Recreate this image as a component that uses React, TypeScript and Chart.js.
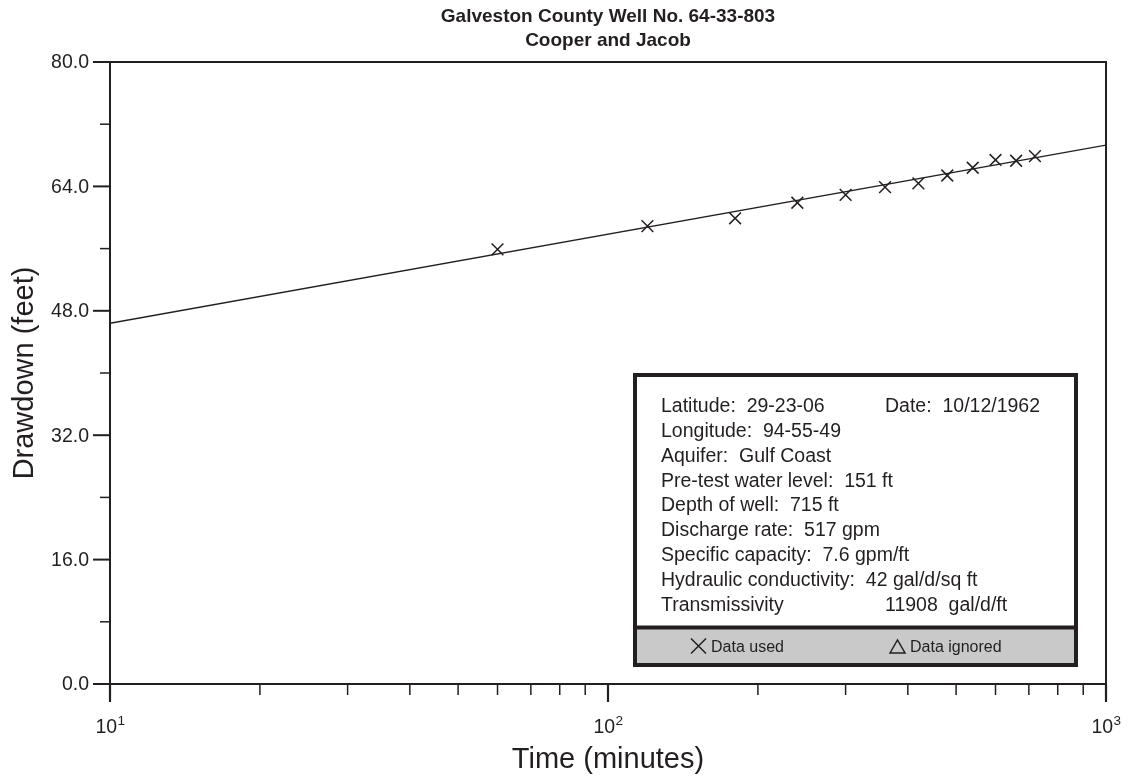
import React, { useEffect, useRef } from "react";
import { Chart, registerables } from "chart.js";

Chart.register(...registerables);

// ---- data ----
const timeMinutes = [60, 120, 180, 240, 300, 360, 420, 480, 540, 600, 660, 720];
const drawdownFeet = [55.9, 58.9, 59.9, 61.9, 62.9, 63.9, 64.4, 65.4, 66.4, 67.4, 67.3, 67.9];
const fitTime = [10, 1000];
const fitDrawdown = [46.4, 69.3];

const yMajorTicks = [0, 16, 32, 48, 64, 80];
const yMinorTicks = [8, 24, 40, 56, 72];
const xMajorTicks = [10, 100, 1000];
const xMajorExponents = ["1", "2", "3"];
const xMinorTicks = [20, 30, 40, 50, 60, 70, 80, 90, 200, 300, 400, 500, 600, 700, 800, 900];

const titleLines = ["Galveston County Well No. 64-33-803", "Cooper and Jacob"];
const xAxisTitle = "Time (minutes)";
const yAxisTitle = "Drawdown (feet)";

const infoLeft = [
  "Latitude:  29-23-06",
  "Longitude:  94-55-49",
  "Aquifer:  Gulf Coast",
  "Pre-test water level:  151 ft",
  "Depth of well:  715 ft",
  "Discharge rate:  517 gpm",
  "Specific capacity:  7.6 gpm/ft",
  "Hydraulic conductivity:  42 gal/d/sq ft",
  "Transmissivity",
];
const infoRight = ["Date:  10/12/1962", "", "", "", "", "", "", "", "11908  gal/d/ft"];
const legendUsed = "Data used";
const legendIgnored = "Data ignored";

const INK = "#231f20";
const FONT = '"Liberation Sans", Arial, Helvetica, sans-serif';

const decorPlugin = {
  id: "decor",
  afterDraw(chart: any) {
    const ctx = chart.ctx as CanvasRenderingContext2D;
    const xs = chart.scales.x;
    const ys = chart.scales.y;
    const { left, right, top, bottom } = chart.chartArea;
    ctx.save();
    ctx.strokeStyle = INK;
    ctx.fillStyle = INK;
    ctx.lineCap = "butt";

    // frame
    ctx.lineWidth = 2;
    ctx.strokeRect(left, top, right - left, bottom - top);

    // y ticks
    ctx.font = `19.5px ${FONT}`;
    ctx.textAlign = "right";
    ctx.textBaseline = "middle";
    yMajorTicks.forEach((v) => {
      const y = ys.getPixelForValue(v);
      ctx.beginPath();
      ctx.moveTo(left - 17, y);
      ctx.lineTo(left, y);
      ctx.stroke();
      ctx.fillText(v.toFixed(1), left - 21, y + 1);
    });
    ctx.lineWidth = 1.5;
    yMinorTicks.forEach((v) => {
      const y = ys.getPixelForValue(v);
      ctx.beginPath();
      ctx.moveTo(left - 10, y);
      ctx.lineTo(left, y);
      ctx.stroke();
    });

    // x ticks
    xMinorTicks.forEach((v) => {
      const x = xs.getPixelForValue(v);
      ctx.beginPath();
      ctx.moveTo(x, bottom);
      ctx.lineTo(x, bottom + 11);
      ctx.stroke();
    });
    ctx.lineWidth = 2.2;
    xMajorTicks.forEach((v, i) => {
      const x = xs.getPixelForValue(v);
      ctx.beginPath();
      ctx.moveTo(x, bottom);
      ctx.lineTo(x, bottom + 18);
      ctx.stroke();
      // label 10^n
      ctx.textAlign = "left";
      ctx.textBaseline = "alphabetic";
      ctx.font = `19.5px ${FONT}`;
      const base = "10";
      const wb = ctx.measureText(base).width;
      ctx.font = `13.5px ${FONT}`;
      const we = ctx.measureText(xMajorExponents[i]).width;
      const x0 = x - (wb + we) / 2;
      ctx.font = `19.5px ${FONT}`;
      ctx.fillText(base, x0, bottom + 49);
      ctx.font = `13.5px ${FONT}`;
      ctx.fillText(xMajorExponents[i], x0 + wb + 0.5, bottom + 41);
    });

    // axis titles
    ctx.font = `29px ${FONT}`;
    ctx.textAlign = "center";
    ctx.textBaseline = "alphabetic";
    ctx.fillText(xAxisTitle, (left + right) / 2, 768);
    ctx.save();
    ctx.translate(33, (top + bottom) / 2);
    ctx.rotate(-Math.PI / 2);
    ctx.fillText(yAxisTitle, 0, 0);
    ctx.restore();

    // title
    ctx.font = `bold 19px ${FONT}`;
    ctx.fillText(titleLines[0], (left + right) / 2, 22);
    ctx.fillText(titleLines[1], (left + right) / 2, 46);

    // info box
    const bx = 635, by = 375, bw = 441, divY = 627.5, bb = 665;
    ctx.fillStyle = "#ffffff";
    ctx.fillRect(bx, by, bw, divY - by);
    ctx.fillStyle = "#c9c9c9";
    ctx.fillRect(bx, divY, bw, bb - divY);
    ctx.lineWidth = 4;
    ctx.strokeStyle = INK;
    ctx.strokeRect(bx, by, bw, bb - by);
    ctx.beginPath();
    ctx.moveTo(bx, divY);
    ctx.lineTo(bx + bw, divY);
    ctx.stroke();

    ctx.fillStyle = INK;
    ctx.font = `19.5px ${FONT}`;
    ctx.textAlign = "left";
    ctx.textBaseline = "alphabetic";
    infoLeft.forEach((t, i) => {
      const yb = 412 + i * 24.85;
      ctx.fillText(t, 661, yb);
      if (infoRight[i]) ctx.fillText(infoRight[i], 885, yb);
    });

    // legend row
    ctx.lineWidth = 1.5;
    const cy = 646;
    ctx.beginPath();
    ctx.moveTo(691, cy - 7.5);
    ctx.lineTo(706, cy + 7.5);
    ctx.moveTo(706, cy - 7.5);
    ctx.lineTo(691, cy + 7.5);
    ctx.stroke();
    ctx.beginPath();
    ctx.moveTo(890, 653);
    ctx.lineTo(897.5, 640);
    ctx.lineTo(905, 653);
    ctx.closePath();
    ctx.stroke();
    ctx.font = `16px ${FONT}`;
    ctx.fillText(legendUsed, 711, 652);
    ctx.fillText(legendIgnored, 910, 652);

    ctx.restore();
  },
};

export default function App() {
  const ref = useRef<HTMLCanvasElement | null>(null);
  useEffect(() => {
    if (!ref.current) return;
    const chart = new Chart(ref.current, {
      type: "scatter",
      data: {
        datasets: [
          {
            label: "Fit",
            data: fitTime.map((t, i) => ({ x: t, y: fitDrawdown[i] })),
            showLine: true,
            borderColor: INK,
            borderWidth: 1.3,
            pointRadius: 0,
            fill: false,
          },
          {
            label: "Data used",
            data: timeMinutes.map((t, i) => ({ x: t, y: drawdownFeet[i] })),
            pointStyle: "crossRot",
            pointRadius: 8.3,
            borderColor: INK,
            backgroundColor: INK,
            borderWidth: 1.5,
            showLine: false,
          },
        ],
      },
      options: {
        responsive: false,
        animation: false,
        devicePixelRatio: 1,
        layout: { padding: { top: 62, right: 22, left: 0, bottom: 0 } },
        plugins: {
          legend: { display: false },
          title: { display: false },
          tooltip: { enabled: false },
        },
        scales: {
          x: {
            type: "logarithmic",
            min: 10,
            max: 1000,
            grid: { display: false },
            border: { display: false },
            ticks: { display: false },
            afterFit: (s: any) => {
              s.height = 94;
            },
          },
          y: {
            type: "linear",
            min: 0,
            max: 80,
            grid: { display: false },
            border: { display: false },
            ticks: { display: false },
            afterFit: (s: any) => {
              s.width = 110;
            },
          },
        },
      },
      plugins: [decorPlugin],
    } as any);
    return () => chart.destroy();
  }, []);
  return (
    <div style={{ position: "absolute", left: 0, top: 0, width: 1128, height: 778, background: "#fff" }}>
      <canvas ref={ref} width={1128} height={778} style={{ display: "block" }} />
    </div>
  );
}
